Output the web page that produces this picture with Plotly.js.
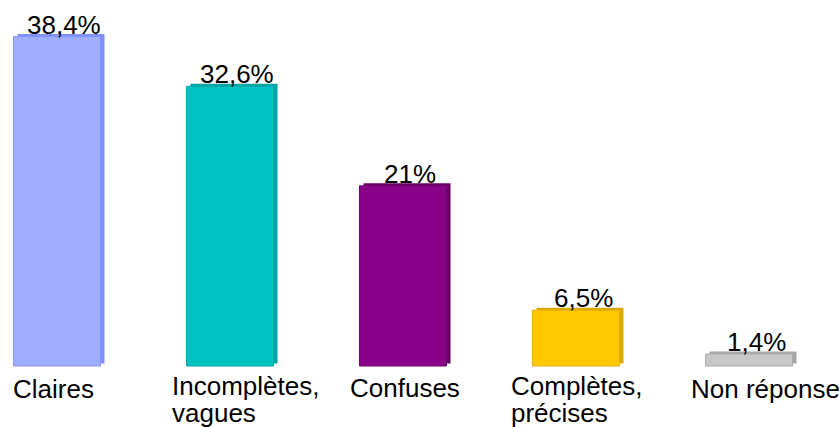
<!DOCTYPE html>
<html>
<head>
<meta charset="utf-8">
<script src="https://cdn.plot.ly/plotly-3.0.1.min.js"></script>
<style>html,body{margin:0;padding:0;background:#fff;}#chart{width:840px;height:427px;}</style>
</head>
<body>
<div id="chart"></div>
<script>
// ---- data ----
const categories = ["Claires", "Incomplètes,<br>vagues", "Confuses", "Complètes,<br>précises", "Non réponse"];
const values = [38.4, 32.6, 21, 6.5, 1.4];
const valueLabels = ["38,4%", "32,6%", "21%", "6,5%", "1,4%"];

// ---- styles ----
const frontColors = ["#A0AEFF", "#00C2C2", "#880088", "#FFC800", "#C8C8C8"];
const edgeColors  = ["#8494FF", "#00A9A9", "#700070", "#E2AE00", "#ADADAD"];
const sideColors  = ["#7F90FF", "#00A4A4", "#680068", "#DDAA00", "#A6A6A6"];
const labelShift = [-2, -16, -11, -23, -16];
const labelDrop  = [-6, -3, -5, -3, -6];
const FONT = "Liberation Sans, Arial, sans-serif";
const barW = 0.503;
const depthX = 4 / 173;      // side-face depth in category units
const depthY = 0.3;          // side-face depth in value units

const xs = categories.map((_, i) => i);

const side = {
  type: "bar", x: xs, y: values, base: depthY,
  width: barW, offset: -barW / 2 + depthX,
  marker: {color: sideColors, line: {width: 0}},
  hoverinfo: "skip", showlegend: false
};
const front = {
  type: "bar", x: xs, y: values,
  width: barW, offset: -barW / 2,
  marker: {color: frontColors, line: {color: edgeColors, width: 1}},
  showlegend: false
};

const annotations = [];
values.forEach((v, i) => {
  annotations.push({
    x: i, y: v, xref: "x", yref: "y", text: valueLabels[i],
    showarrow: false, xanchor: "center", yanchor: "bottom", xshift: 7, yshift: -5,
    font: {family: FONT, size: 26, color: "#000"}
  });
  categories[i].split("<br>").forEach((line, k) => {
    annotations.push({
      x: i - barW / 2, y: 0, xref: "x", yref: "y", text: line,
      showarrow: false, xanchor: "left", yanchor: "top",
      xshift: labelShift[i], yshift: labelDrop[i] - 27 * k,
      font: {family: FONT, size: 26, color: "#000"}
    });
  });
});

const layout = {
  width: 840, height: 427,
  margin: {l: 0, r: 0, t: 0, b: 0},
  paper_bgcolor: "#fff", plot_bgcolor: "#fff",
  barmode: "overlay",
  xaxis: {range: [-0.3295, 4.526], visible: false, fixedrange: true},
  yaxis: {range: [-7.11, 42.66], visible: false, fixedrange: true},
  annotations: annotations,
  showlegend: false
};

Plotly.newPlot("chart", [side, front], layout, {staticPlot: true});
</script>
</body>
</html>
